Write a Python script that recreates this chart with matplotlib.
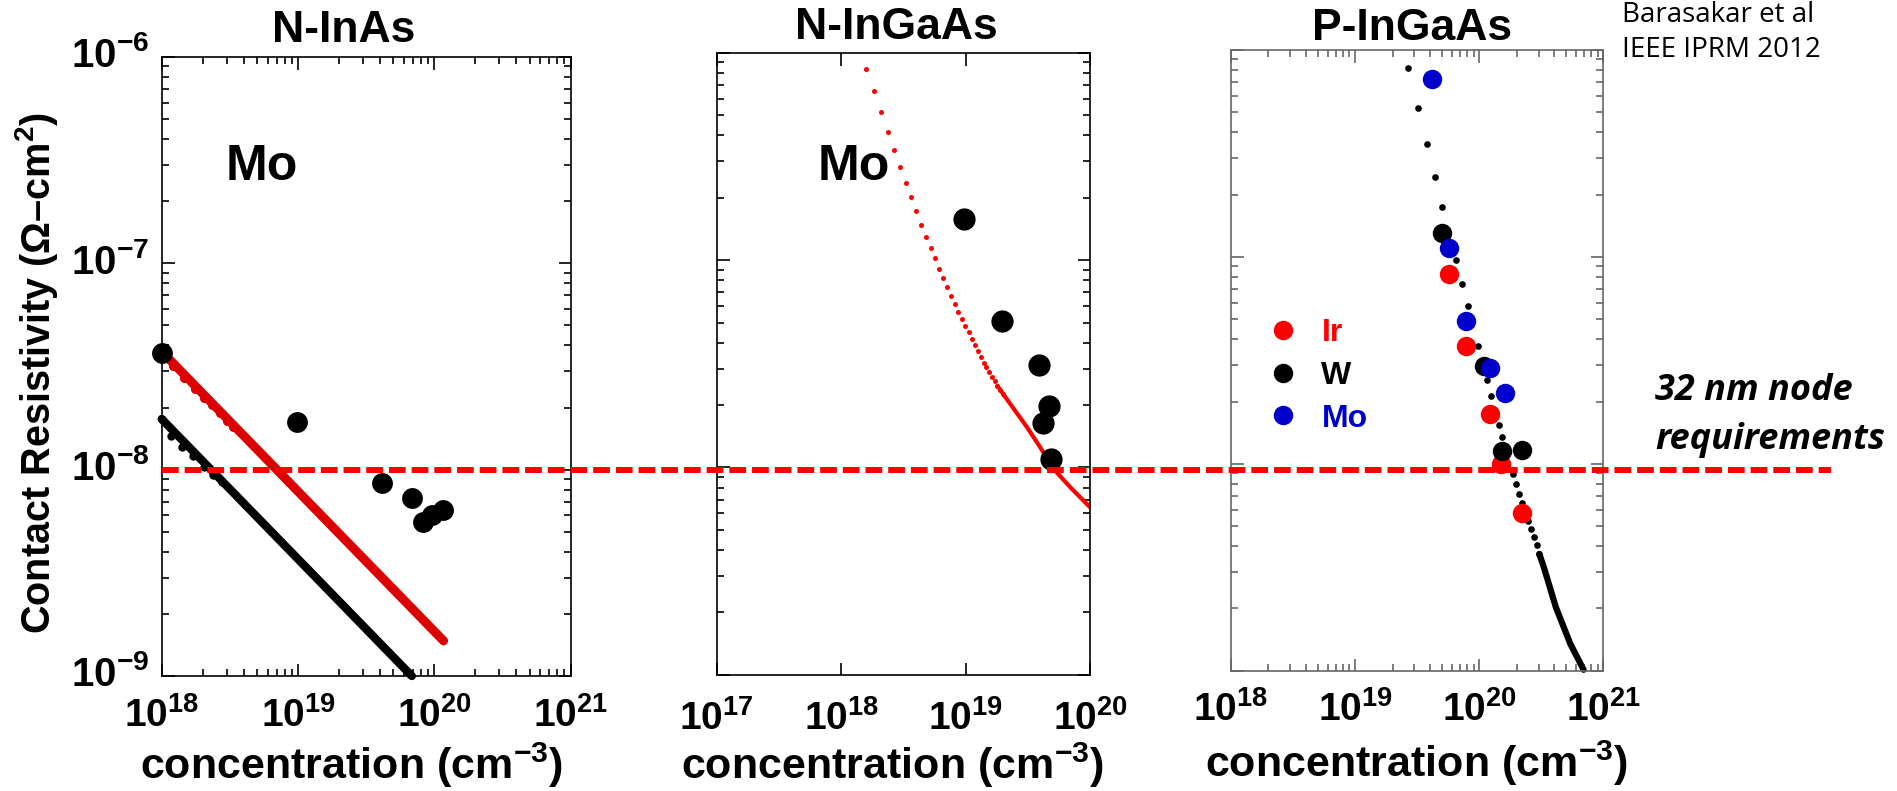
import matplotlib
matplotlib.use('Agg')
import matplotlib.pyplot as plt
from matplotlib.lines import Line2D
from matplotlib import transforms
from matplotlib.ticker import NullFormatter

plt.rcParams['font.family'] = ['Liberation Sans', 'DejaVu Sans']
plt.rcParams['font.weight'] = 'bold'
plt.rcParams['mathtext.fontset'] = 'custom'
plt.rcParams['mathtext.rm'] = 'Liberation Sans:bold'
plt.rcParams['mathtext.bf'] = 'Liberation Sans:bold'
plt.rcParams['mathtext.it'] = 'Liberation Sans:bold:italic'

# ---- N-InAs panel ----
inas_mo_n = [1.0e18, 9.8e18, 4.14e19, 6.84e19, 8.24e19, 9.66e19, 1.15e20]
inas_mo_rho = [3.67e-8, 1.70e-8, 8.6e-9, 7.28e-9, 5.55e-9, 6.04e-9, 6.38e-9]
inas_red_dot_n = [1.216e18, 1.465e18, 1.754e18, 2.05e18, 2.35e18, 2.67e18, 2.99e18, 3.35e18]
inas_red_dot_rho = [3.18e-8, 2.79e-8, 2.46e-8, 2.23e-8, 2.06e-8, 1.88e-8, 1.73e-8, 1.61e-8]
inas_red_line_n = [1.15e18, 1.17e20]
inas_red_line_rho = [3.40e-8, 1.48e-9]
inas_blk_dot_n = [1.0e18, 1.17e18, 1.40e18, 1.70e18, 2.05e18, 2.39e18, 2.75e18]
inas_blk_dot_rho = [1.76e-8, 1.46e-8, 1.29e-8, 1.16e-8, 1.035e-8, 9.44e-9, 8.75e-9]
inas_blk_line_n = [1.0e18, 6.84e19]
inas_blk_line_rho = [1.76e-8, 1.0e-9]

# ---- N-InGaAs panel ----
ingaas_mo_n = [9.77e18, 1.965e19, 3.90e19, 4.72e19, 4.17e19, 4.86e19]
ingaas_mo_rho = [1.58e-7, 5.09e-8, 3.11e-8, 1.97e-8, 1.63e-8, 1.10e-8]
ingaas_dot_n = [1.595e18, 1.85e18, 2.09e18, 2.38e18, 2.68e18, 2.97e18, 3.33e18, 3.67e18,
                4.02e18, 4.41e18, 4.81e18, 5.25e18, 5.65e18, 6.15e18, 6.59e18, 7.10e18,
                7.64e18, 8.18e18, 8.75e18, 9.31e18, 9.97e18, 1.061e19, 1.122e19, 1.186e19,
                1.254e19, 1.325e19, 1.40e19, 1.47e19, 1.545e19, 1.633e19, 1.717e19, 1.80e19,
                1.89e19, 1.99e19]
ingaas_dot_rho = [8.40e-7, 6.55e-7, 5.17e-7, 4.17e-7, 3.41e-7, 2.81e-7, 2.36e-7, 2.01e-7,
                  1.725e-7, 1.48e-7, 1.30e-7, 1.15e-7, 1.02e-7, 9.12e-8, 8.21e-8, 7.41e-8,
                  6.73e-8, 6.15e-8, 5.63e-8, 5.19e-8, 4.82e-8, 4.48e-8, 4.17e-8, 3.88e-8,
                  3.63e-8, 3.41e-8, 3.21e-8, 3.04e-8, 2.89e-8, 2.73e-8, 2.60e-8, 2.48e-8,
                  2.36e-8, 2.25e-8]
ingaas_line_n = [1.80e19, 2.28e19, 3.11e19, 3.97e19, 5.08e19, 6.92e19, 1.0e20]
ingaas_line_rho = [2.48e-8, 2.03e-8, 1.567e-8, 1.254e-8, 9.86e-9, 8.04e-9, 6.43e-9]

# ---- P-InGaAs panel ----
p_dot_n = [2.65e19, 3.22e19, 3.78e19, 4.40e19, 5.02e19, 6.44e19, 7.22e19, 8.03e19, 9.67e19,
           1.153e20, 1.24e20, 1.43e20, 1.53e20, 1.865e20, 1.97e20, 2.07e20, 2.22e20, 2.47e20,
           2.61e20, 2.75e20, 2.90e20, 3.04e20]
p_dot_rho = [8.15e-7, 5.22e-7, 3.51e-7, 2.44e-7, 1.74e-7, 9.64e-8, 7.40e-8, 5.79e-8, 3.71e-8,
             2.53e-8, 2.12e-8, 1.545e-8, 1.34e-8, 8.95e-9, 7.95e-9, 7.17e-9, 6.45e-9, 5.32e-9,
             4.85e-9, 4.42e-9, 4.03e-9, 3.67e-9]
p_line_n = [3.04e20, 3.31e20, 4.13e20, 5.40e20, 6.92e20]
p_line_rho = [3.67e-9, 3.16e-9, 2.03e-9, 1.35e-9, 1.01e-9]
p_ir_n = [5.68e19, 7.82e19, 1.21e20, 1.495e20, 2.22e20]
p_ir_rho = [8.25e-8, 3.71e-8, 1.75e-8, 9.93e-9, 5.77e-9]
p_w_n = [5.02e19, 1.096e20, 1.53e20, 2.22e20]
p_w_rho = [1.31e-7, 2.97e-8, 1.15e-8, 1.16e-8]
p_mo_n = [4.13e19, 5.68e19, 7.82e19, 1.21e20, 1.60e20]
p_mo_rho = [7.21e-7, 1.105e-7, 4.89e-8, 2.92e-8, 2.20e-8]

node_req = 1.0e-8

y_ticks = [1e-9, 1e-8, 1e-7, 1e-6]
y_labels = [r'$\mathbf{10^{-9}}$', r'$\mathbf{10^{-8}}$', r'$\mathbf{10^{-7}}$', r'$\mathbf{10^{-6}}$']
x_ticks_a = [1e18, 1e19, 1e20, 1e21]
x_labels_a = [r'$\mathbf{10^{18}}$', r'$\mathbf{10^{19}}$', r'$\mathbf{10^{20}}$', r'$\mathbf{10^{21}}$']
x_ticks_b = [1e17, 1e18, 1e19, 1e20]
x_labels_b = [r'$\mathbf{10^{17}}$', r'$\mathbf{10^{18}}$', r'$\mathbf{10^{19}}$', r'$\mathbf{10^{20}}$']

RED = '#ff0000'
DARKRED = '#dd0000'
BLUE = '#0000cc'

fig = plt.figure(figsize=(18.97, 7.91), dpi=100)
ax1 = fig.add_axes([0.08524, 0.14539, 0.21555, 0.78255])
ax2 = fig.add_axes([0.37781, 0.14703, 0.19679, 0.78597])
ax3 = fig.add_axes([0.64892, 0.15209, 0.19636, 0.78470])


def setup(ax, xticks, xlabels, xlim, pad, edge='black'):
    ax.set_xscale('log')
    ax.set_yscale('log')
    ax.set_xlim(*xlim)
    ax.set_ylim(1e-9, 1e-6)
    ax.set_xticks(xticks, xlabels)
    ax.set_yticks(y_ticks, y_labels)
    ax.xaxis.set_minor_formatter(NullFormatter())
    ax.yaxis.set_minor_formatter(NullFormatter())
    ax.tick_params(which='both', direction='in', top=True, right=True, width=1.2, color=edge)
    ax.tick_params(which='major', length=9)
    ax.tick_params(which='minor', length=5)
    ax.tick_params(axis='x', labelsize=28, pad=pad)
    ax.tick_params(axis='y', labelsize=29, pad=9)
    for s in ax.spines.values():
        s.set_linewidth(1.2)
        s.set_color(edge)
    ax.set_xlabel(r'concentration (cm$^{\mathbf{-3}}$)', fontsize=31, fontweight='bold')


setup(ax1, x_ticks_a, x_labels_a, (1e18, 1e21), 15)
setup(ax2, x_ticks_b, x_labels_b, (1e17, 1e20), 18)
setup(ax3, x_ticks_a, x_labels_a, (1e18, 1e21), 15, edge='#666666')
ax2.tick_params(axis='y', labelleft=False)
ax3.tick_params(axis='y', labelleft=False)

# lift the y tick labels a little, as in the original
lift = transforms.ScaledTranslation(0, 0.05, fig.dpi_scale_trans)
for t in ax1.yaxis.get_major_ticks():
    t.label1.set_transform(t.label1.get_transform() + lift)

ax1.xaxis.set_label_coords(0.463, -0.1664)
ax2.xaxis.set_label_coords(0.472, -0.1678)
ax3.xaxis.set_label_coords(0.499, -0.1713)
for ax in (ax1, ax2, ax3):
    ax.xaxis.label.set_va('baseline')

ax1.set_ylabel('Contact Resistivity (Ω–cm$^{\\mathbf{2}}$)', fontsize=28.5, fontweight='bold')
ax1.yaxis.set_label_coords(-0.307, 0.49)
ax1.yaxis.label.set_va('center')

# N-InAs
ax1.plot(inas_blk_line_n, inas_blk_line_rho, color='black', lw=6, solid_capstyle='round', clip_on=False)
ax1.plot(inas_blk_dot_n, inas_blk_dot_rho, 'o', color='black', ms=6, mew=0, clip_on=False)
ax1.plot(inas_red_line_n, inas_red_line_rho, color=DARKRED, lw=6.5, solid_capstyle='round')
ax1.plot(inas_red_dot_n, inas_red_dot_rho, 'o', color=DARKRED, ms=6.5, mew=0)
ax1.plot(inas_mo_n, inas_mo_rho, 'o', color='black', ms=15, mew=0, clip_on=False)

# N-InGaAs
ax2.plot(ingaas_line_n, ingaas_line_rho, color=RED, lw=3.0, solid_capstyle='round')
ax2.plot(ingaas_dot_n, ingaas_dot_rho, 'o', color=RED, ms=3.6, mew=0)
ax2.plot(ingaas_mo_n, ingaas_mo_rho, 'o', color='black', ms=16, mew=0)

# P-InGaAs
ax3.plot(p_line_n, p_line_rho, color='black', lw=4.5, solid_capstyle='round', clip_on=False)
ax3.plot(p_dot_n, p_dot_rho, 'o', color='black', ms=4.8, mew=0)
h_ir, = ax3.plot(p_ir_n, p_ir_rho, 'o', color=RED, ms=14, mew=0, label='Ir')
h_w, = ax3.plot(p_w_n, p_w_rho, 'o', color='black', ms=14, mew=0, label='W')
h_mo, = ax3.plot(p_mo_n, p_mo_rho, 'o', color=BLUE, ms=14, mew=0, label='Mo')
ax3.legend(handles=[h_ir, h_w, h_mo], loc='center left', bbox_to_anchor=(0.0977, 0.475),
           frameon=False, borderpad=0, borderaxespad=0, handlelength=1.0, handletextpad=0.69,
           labelspacing=0.4, numpoints=1, labelcolor='markerfacecolor',
           prop={'size': 23, 'weight': 'bold'})

# titles and labels
fig.text(344 / 1897, 1 - 42 / 791, 'N-InAs', ha='center', va='baseline', fontsize=32, fontweight='bold')
fig.text(896.7 / 1897, 1 - 39 / 791, 'N-InGaAs', ha='center', va='baseline', fontsize=32, fontweight='bold')
fig.text(1412 / 1897, 1 - 40 / 791, 'P-InGaAs', ha='center', va='baseline', fontsize=32, fontweight='bold')
fig.text(262 / 1897, 1 - 180 / 791, 'Mo', ha='center', va='baseline', fontsize=36, fontweight='bold')
fig.text(854 / 1897, 1 - 180 / 791, 'Mo', ha='center', va='baseline', fontsize=36, fontweight='bold')

note_font = ['Open Sans', 'DejaVu Sans']
fig.text(1621.7 / 1897, 1 - 22 / 791, 'Barasakar et al', ha='left', va='baseline',
         fontsize=20, fontweight='normal', family=note_font)
fig.text(1621.7 / 1897, 1 - 57 / 791, 'IEEE IPRM 2012', ha='left', va='baseline',
         fontsize=20, fontweight='normal', family=note_font)
fig.text(1655 / 1897, 1 - 400 / 791, '32 nm node', ha='left', va='baseline',
         fontsize=26, fontweight='bold', style='italic', family=note_font)
fig.text(1655 / 1897, 1 - 449 / 791, 'requirements', ha='left', va='baseline',
         fontsize=26, fontweight='bold', style='italic', family=note_font)

# 32 nm node requirement line across all panels
blend = transforms.blended_transform_factory(fig.transFigure, ax1.transData)
fig.add_artist(Line2D([161.7 / 1897, 1831 / 1897], [node_req, node_req], transform=blend,
                      color=RED, lw=4.3, linestyle=(0, (2.8, 1.0)), solid_capstyle='butt',
                      dash_capstyle='butt', zorder=5))

fig.savefig('out.png', dpi=100)
